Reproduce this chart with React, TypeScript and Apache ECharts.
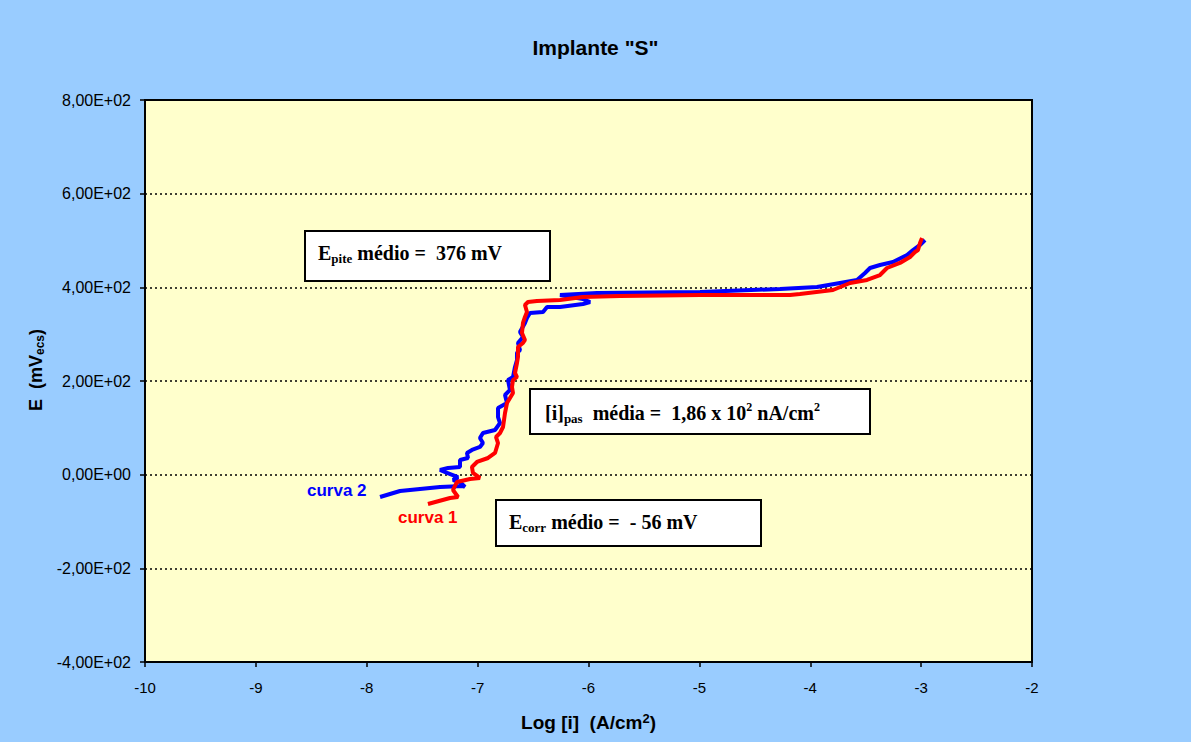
import React, { useEffect, useRef } from "react";
import * as echarts from "echarts";

// Curve 1 (red): log current density and potential (mV)
const curve1LogI = [
  -7.448, -7.249, -7.177, -7.222, -7.186, -7.069, -6.979, -7.042, -7.051, -7.006,
  -6.906, -6.843, -6.816, -6.834, -6.798, -6.771, -6.753, -6.735, -6.708, -6.681,
  -6.69, -6.681, -6.645, -6.663, -6.645, -6.636, -6.636, -6.591, -6.573, -6.6,
  -6.591, -6.573, -6.555, -6.573, -6.546, -6.465, -6.257, -6.05, -5.716, -4.994,
  -4.183, -4.093, -3.795, -3.641, -3.488, -3.371, -3.308, -3.191, -3.1, -3.055,
  -3.028, -3.01, -2.992,
];
const curve1E = [
  -62.6, -49.8, -47.7, -32.7, -15.6, -9.2, -7.1, 3.6, 16.4, 27.1,
  35.6, 46.3, 67.6, 80.4, 89, 101.8, 131.7, 153, 163.7, 174.4,
  187.2, 202.1, 208.5, 217.1, 238.4, 251.3, 272.6, 281.1, 287.6, 302.5,
  323.9, 336.7, 347.3, 362.3, 368.7, 370.8, 373, 379.4, 381.5, 383.6,
  383.6, 385.8, 394.3, 409.3, 415.7, 426.3, 441.3, 452, 464.8, 475.5,
  479.7, 494.7, 505.3,
];

// Curve 2 (blue)
const curve2LogI = [
  -7.88, -7.7, -7.339, -7.132, -7.114, -7.159, -7.222, -7.177, -7.276, -7.339,
  -7.267, -7.159, -7.159, -7.087, -7.096, -7.051, -6.979, -6.952, -6.979, -6.952,
  -6.843, -6.798, -6.816, -6.816, -6.735, -6.753, -6.708, -6.726, -6.681, -6.663,
  -6.645, -6.645, -6.618, -6.636, -6.591, -6.618, -6.573, -6.555, -6.528, -6.41,
  -6.374, -6.257, -6.05, -5.986, -6.05, -6.257, -5.923, -4.994, -4.273, -3.939,
  -3.732, -3.578, -3.506, -3.461, -3.371, -3.254, -3.127, -3.073, -3.01, -2.965,
];
const curve2E = [
  -47.7, -34.9, -26.3, -24.2, -26.3, -15.6, -11.4, -5, 3.6, 10,
  14.2, 16.4, 31.3, 35.6, 46.3, 52.7, 59.1, 67.6, 78.3, 89,
  95.4, 110.3, 123.1, 142.4, 153, 170.1, 180.8, 202.1, 208.5, 229.9,
  244.8, 259.8, 266.2, 281.1, 294, 304.6, 323.9, 334.5, 345.2, 347.3,
  358, 358, 364.4, 368.7, 375.1, 383.6, 387.9, 390, 396.4, 400.7,
  409.3, 415.7, 430.6, 441.3, 447.7, 454.1, 469, 479.7, 490.4, 501.1,
];

const yTickValues = [-400, -200, 0, 200, 400, 600, 800];
const yTickLabels = ["-4,00E+02", "-2,00E+02", "0,00E+00", "2,00E+02", "4,00E+02", "6,00E+02", "8,00E+02"];

const seriesNames = ["curva 2", "curva 1"];

const SANS = "Liberation Sans, Arial, sans-serif";
const SERIF = "Liberation Serif, Times New Roman, serif";
const NAVY = "#000080";

function zip(xs: number[], ys: number[]) {
  return xs.map((x, i) => [x, ys[i]]);
}

const boxRich = {
  m: { fontFamily: SERIF, fontWeight: "bold", fontSize: 20, color: NAVY, lineHeight: 24, verticalAlign: "middle" },
  s: { fontFamily: SERIF, fontWeight: "bold", fontSize: 13, color: NAVY, lineHeight: 13, verticalAlign: "bottom" },
  p: { fontFamily: SERIF, fontWeight: "bold", fontSize: 12, color: NAVY, lineHeight: 12, verticalAlign: "top" },
};

export default function App() {
  const ref = useRef<HTMLDivElement>(null);
  useEffect(() => {
    if (!ref.current) return;
    const chart = echarts.init(ref.current, null, { renderer: "svg" });
    const option: any = {
      animation: false,
      backgroundColor: "#99CCFF",
      title: {
        text: 'Implante "S"',
        left: "center",
        top: 32,
        textStyle: { fontFamily: SANS, fontWeight: "bold", fontSize: 21, color: "#000" },
      },
      grid: {
        left: 145,
        right: 159,
        top: 100,
        bottom: 80,
        show: true,
        backgroundColor: "#FFFFCC",
        borderColor: "#000",
        borderWidth: 2,
      },
      xAxis: {
        type: "value",
        min: -10,
        max: -2,
        interval: 1,
        name: "{a|Log [i]  (A/cm}{b|2}{a|)}",
        nameLocation: "middle",
        nameGap: 50,
        nameTextStyle: {
          rich: {
            a: { fontFamily: SANS, fontWeight: "bold", fontSize: 19, color: "#000", lineHeight: 21, verticalAlign: "middle" },
            b: { fontFamily: SANS, fontWeight: "bold", fontSize: 13, color: "#000", lineHeight: 13, verticalAlign: "top" },
          },
        },
        axisLine: { show: true, onZero: false, lineStyle: { color: "#000", width: 2 } },
        axisTick: { show: true, length: 5, lineStyle: { color: "#000", width: 1.5 } },
        axisLabel: { color: "#000", fontSize: 15, fontFamily: SANS, margin: 18 },
        splitLine: { show: false },
      },
      yAxis: {
        type: "value",
        min: -400,
        max: 800,
        interval: 200,
        name: "{a|E  (mV}{b|ecs}{a|)}",
        nameLocation: "middle",
        nameRotate: 90,
        nameGap: 96,
        nameTextStyle: {
          padding: [0, 0, 0, 22],
          rich: {
            a: { fontFamily: SANS, fontWeight: "bold", fontSize: 18, color: "#000", lineHeight: 20, verticalAlign: "middle" },
            b: { fontFamily: SANS, fontWeight: "bold", fontSize: 12, color: "#000", lineHeight: 12, verticalAlign: "bottom" },
          },
        },
        axisLine: { show: true, onZero: false, lineStyle: { color: "#000", width: 2 } },
        axisTick: { show: true, length: 5, lineStyle: { color: "#000", width: 1.5 } },
        axisLabel: {
          color: "#000",
          fontSize: 16,
          fontFamily: SANS,
          margin: 14,
          formatter: (v: number) => {
            const i = yTickValues.indexOf(v);
            return i >= 0 ? yTickLabels[i] : "";
          },
        },
        splitLine: { show: true, lineStyle: { color: "#000", width: 1.5, type: [2, 3] } },
      },
      series: [
        {
          name: seriesNames[0],
          type: "line",
          data: zip(curve2LogI, curve2E),
          showSymbol: false,
          symbol: "none",
          lineStyle: { color: "#0000FF", width: 4 },
          itemStyle: { color: "#0000FF" },
          z: 3,
        },
        {
          name: seriesNames[1],
          type: "line",
          data: zip(curve1LogI, curve1E),
          showSymbol: false,
          symbol: "none",
          lineStyle: { color: "#FF0000", width: 4 },
          itemStyle: { color: "#FF0000" },
          z: 4,
        },
      ],
      graphic: [
        {
          type: "rect",
          z: 10,
          shape: { x: 305, y: 231, width: 245, height: 50 },
          style: { fill: "#FFFFFF", stroke: "#000", lineWidth: 2 },
        },
        {
          type: "text",
          z: 11,
          x: 318,
          y: 253,
          style: { text: "{m|E}{s|pite}{m| médio =  376 mV}", rich: boxRich, verticalAlign: "middle" },
        },
        {
          type: "rect",
          z: 10,
          shape: { x: 530, y: 389, width: 340, height: 45 },
          style: { fill: "#FFFFFF", stroke: "#000", lineWidth: 2 },
        },
        {
          type: "text",
          z: 11,
          x: 545,
          y: 413,
          style: { text: "{m|[i]}{s|pas}{m|  média =  1,86 x 10}{p|2}{m| nA/cm}{p|2}", rich: boxRich, verticalAlign: "middle" },
        },
        {
          type: "rect",
          z: 10,
          shape: { x: 496, y: 500, width: 265, height: 46 },
          style: { fill: "#FFFFFF", stroke: "#000", lineWidth: 2 },
        },
        {
          type: "text",
          z: 11,
          x: 509,
          y: 522,
          style: { text: "{m|E}{s|corr}{m| médio =  - 56 mV}", rich: boxRich, verticalAlign: "middle" },
        },
        {
          type: "text",
          z: 11,
          x: 307,
          y: 490,
          style: { text: "curva 2", fill: "#0000FF", font: "bold 17px " + SANS, verticalAlign: "middle" },
        },
        {
          type: "text",
          z: 11,
          x: 398,
          y: 517,
          style: { text: "curva 1", fill: "#FF0000", font: "bold 17px " + SANS, verticalAlign: "middle" },
        },
      ],
    };
    chart.setOption(option);
    return () => chart.dispose();
  }, []);
  return <div ref={ref} style={{ position: "absolute", left: 0, top: 0, width: 1191, height: 742 }} />;
}
